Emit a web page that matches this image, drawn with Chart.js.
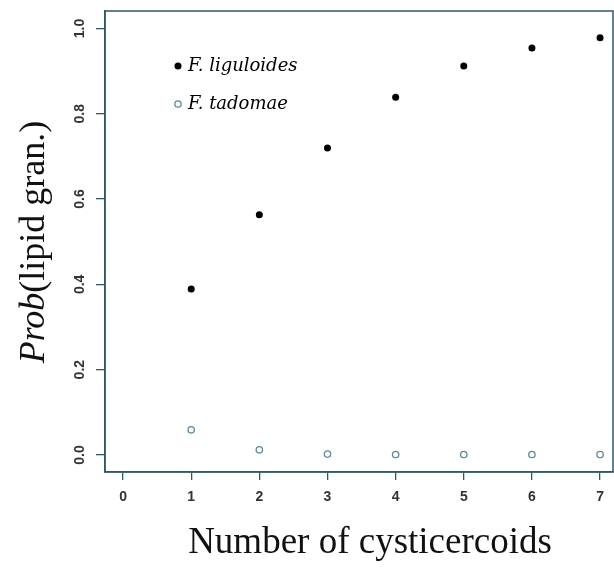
<!DOCTYPE html>
<html>
<head>
<meta charset="utf-8">
<script src="https://cdn.jsdelivr.net/npm/chart.js@4/dist/chart.umd.min.js"></script>
<style>
  html, body { margin: 0; padding: 0; background: #fff; }
  #wrap { width: 614px; height: 569px; }
</style>
</head>
<body>
<div id="wrap"><canvas id="probChart" width="614" height="569"></canvas></div>
<script>
// data
const cysticercoids = [1, 2, 3, 4, 5, 6, 7];
const liguloidesProb = [0.389, 0.563, 0.72, 0.839, 0.912, 0.954, 0.978];
const tadomaeProb = [0.059, 0.012, 0.002, 0.001, 0.001, 0.001, 0.001];
const xTicks = [0, 1, 2, 3, 4, 5, 6, 7];
const yTicks = [0, 0.2, 0.4, 0.6, 0.8, 1.0];

const axisColor = '#2f5866';
const openColor = '#5b8a98';
const tickFont = 'bold 14px "Liberation Sans", Arial, sans-serif';

function toPoints(xs, ys) {
  return xs.map((x, i) => ({ x: x, y: ys[i] }));
}

// box, rotated y labels, axis titles and legend
const decorations = {
  id: 'decorations',
  afterDraw(chart) {
    const ctx = chart.ctx;
    const area = chart.chartArea;
    const yScale = chart.scales.y;
    ctx.save();

    // frame
    ctx.strokeStyle = axisColor;
    ctx.lineWidth = 1.5;
    ctx.strokeRect(area.left, area.top, area.right - area.left, area.bottom - area.top);

    // y tick labels rotated like R
    ctx.fillStyle = '#333';
    ctx.font = tickFont;
    ctx.textAlign = 'center';
    ctx.textBaseline = 'middle';
    yTicks.forEach((v) => {
      const py = yScale.getPixelForValue(v);
      ctx.save();
      ctx.translate(80, py);
      ctx.rotate(-Math.PI / 2);
      ctx.fillText(v.toFixed(1), 0, 0);
      ctx.restore();
    });

    // x title
    ctx.fillStyle = '#111';
    ctx.font = '37px "Liberation Serif", "Times New Roman", serif';
    ctx.textAlign = 'center';
    ctx.textBaseline = 'alphabetic';
    ctx.fillText('Number of cysticercoids', 370, 553);

    // y title, "Prob" in italics
    ctx.save();
    ctx.translate(44, 242);
    ctx.rotate(-Math.PI / 2);
    const italic = 'italic 36px "Liberation Serif", "Times New Roman", serif';
    const upright = '36px "Liberation Serif", "Times New Roman", serif';
    ctx.font = italic;
    const w1 = ctx.measureText('Prob').width;
    ctx.font = upright;
    const w2 = ctx.measureText('(lipid gran.)').width;
    const start = -(w1 + w2) / 2;
    ctx.textAlign = 'left';
    ctx.font = italic;
    ctx.fillText('Prob', start, 0);
    ctx.font = upright;
    ctx.fillText('(lipid gran.)', start + w1, 0);
    ctx.restore();

    // legend
    ctx.textAlign = 'left';
    ctx.textBaseline = 'middle';
    ctx.font = 'italic 18px "DejaVu Serif", serif';
    ctx.fillStyle = '#000';
    ctx.beginPath();
    ctx.arc(178, 66, 3.5, 0, Math.PI * 2);
    ctx.fill();
    ctx.fillText('F. liguloides', 188, 66);
    ctx.strokeStyle = openColor;
    ctx.lineWidth = 1.3;
    ctx.beginPath();
    ctx.arc(178, 104, 3.2, 0, Math.PI * 2);
    ctx.stroke();
    ctx.fillStyle = '#000';
    ctx.fillText('F. tadomae', 188, 104);

    ctx.restore();
  }
};

new Chart(document.getElementById('probChart'), {
  type: 'scatter',
  data: {
    datasets: [
      {
        label: 'F. liguloides',
        data: toPoints(cysticercoids, liguloidesProb),
        pointRadius: 3.5,
        pointBackgroundColor: '#000',
        pointBorderColor: '#000',
        pointBorderWidth: 0,
      },
      {
        label: 'F. tadomae',
        data: toPoints(cysticercoids, tadomaeProb),
        pointRadius: 3.2,
        pointBackgroundColor: 'rgba(0,0,0,0)',
        pointBorderColor: openColor,
        pointBorderWidth: 1.3,
      },
    ],
  },
  options: {
    responsive: false,
    animation: false,
    layout: { autoPadding: false, padding: { top: 11, right: 1, left: 0, bottom: 0 } },
    plugins: {
      legend: { display: false },
      tooltip: { enabled: false },
    },
    scales: {
      x: {
        type: 'linear',
        min: -0.265,
        max: 7.19,
        afterBuildTicks: (scale) => { scale.ticks = xTicks.map((v) => ({ value: v })); },
        afterFit: (scale) => {
          scale.height = 97;
          scale.paddingLeft = 0;
          scale.paddingRight = 0;
        },
        grid: { drawOnChartArea: false, drawTicks: true, tickLength: 8, color: axisColor, lineWidth: 1.3 },
        border: { display: true, color: axisColor, width: 1.5 },
        ticks: {
          color: '#333',
          padding: 9,
          maxRotation: 0,
          font: { family: '"Liberation Sans", Arial, sans-serif', size: 14, weight: 'bold' },
        },
      },
      y: {
        type: 'linear',
        min: -0.04,
        max: 1.041,
        afterBuildTicks: (scale) => { scale.ticks = yTicks.map((v) => ({ value: v })); },
        afterFit: (scale) => {
          scale.width = 105;
          scale.paddingTop = 0;
          scale.paddingBottom = 0;
        },
        grid: { drawOnChartArea: false, drawTicks: true, tickLength: 9, color: axisColor, lineWidth: 1.3 },
        border: { display: true, color: axisColor, width: 1.5 },
        ticks: { display: false },
      },
    },
  },
  plugins: [decorations],
});
</script>
</body>
</html>
